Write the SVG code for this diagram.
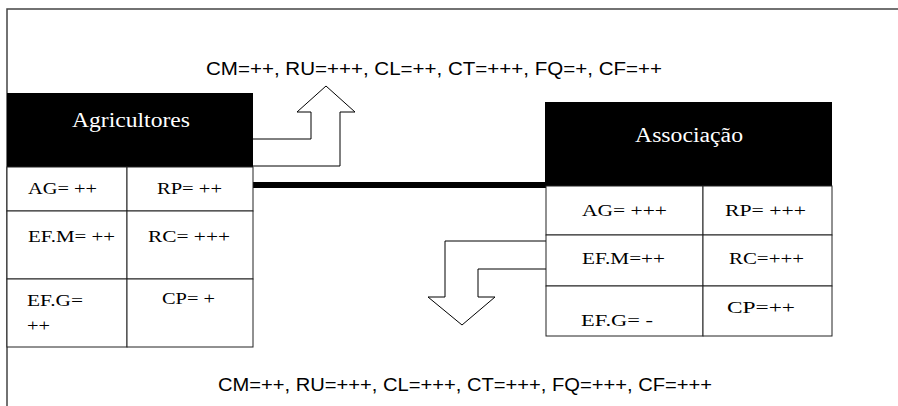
<svg xmlns="http://www.w3.org/2000/svg" width="898" height="406" viewBox="0 0 898 406">
<style>
.hdr{fill:#000}
.cell{fill:#fff;stroke:#222;stroke-width:1}
.ht{font-family:"Liberation Serif",serif;font-size:20px;fill:#fff}
.ct{font-family:"Liberation Serif",serif;font-size:17px;fill:#000}
.lab{font-family:"Liberation Sans",Arial,sans-serif;font-size:18px;fill:#000}
.arrow{fill:#fff;stroke:#000;stroke-width:1;stroke-linejoin:miter}
.frame{fill:none;stroke:#444;stroke-width:1.5}
</style>
<rect width="898" height="406" fill="#fff"/>
<path class="frame" d="M7,406 V9 H898"/>
<g id="connectors">
  <rect x="253" y="182" width="293" height="6" fill="#000"/>
  <polyline class="arrow" points="253,139 311,139 311,112 297,112 326,86 355,112 340,112 340,166 253,166"/>
  <polyline class="arrow" points="546,241 445,241 445,297 428,297 462,325 495,297 478,297 478,269 546,269"/>
</g>
<g id="agricultores">
  <rect class="hdr" x="7" y="93" width="246" height="74"/>
  <text class="ht" x="131" y="127" text-anchor="middle" textLength="118" lengthAdjust="spacingAndGlyphs">Agricultores</text>
  <rect class="cell" x="7" y="167" width="120" height="44"/>
  <rect class="cell" x="127" y="167" width="126" height="44"/>
  <rect class="cell" x="7" y="211" width="120" height="68"/>
  <rect class="cell" x="127" y="211" width="126" height="68"/>
  <rect class="cell" x="7" y="279" width="120" height="68"/>
  <rect class="cell" x="127" y="279" width="126" height="68"/>
  <text class="ct" x="28" y="194" textLength="69" lengthAdjust="spacingAndGlyphs">AG= ++</text>
  <text class="ct" x="157" y="194" textLength="65" lengthAdjust="spacingAndGlyphs">RP= ++</text>
  <text class="ct" x="28" y="242" textLength="87" lengthAdjust="spacingAndGlyphs">EF.M= ++</text>
  <text class="ct" x="148" y="242" textLength="82" lengthAdjust="spacingAndGlyphs">RC= +++</text>
  <text class="ct" x="27" y="306" textLength="56" lengthAdjust="spacingAndGlyphs">EF.G=</text>
  <text class="ct" x="27" y="331" textLength="23" lengthAdjust="spacingAndGlyphs">++</text>
  <text class="ct" x="162" y="304" textLength="53" lengthAdjust="spacingAndGlyphs">CP= +</text>
</g>
<g id="associacao">
  <rect class="hdr" x="545" y="102" width="287" height="84"/>
  <text class="ht" x="689" y="142" text-anchor="middle" textLength="108" lengthAdjust="spacingAndGlyphs">Associação</text>
  <rect class="cell" x="546" y="186" width="157" height="49"/>
  <rect class="cell" x="703" y="186" width="129" height="49"/>
  <rect class="cell" x="546" y="235" width="157" height="51"/>
  <rect class="cell" x="703" y="235" width="129" height="51"/>
  <rect class="cell" x="546" y="286" width="157" height="50"/>
  <rect class="cell" x="703" y="286" width="129" height="50"/>
  <text class="ct" x="582" y="216" textLength="85" lengthAdjust="spacingAndGlyphs">AG= +++</text>
  <text class="ct" x="725" y="216" textLength="81" lengthAdjust="spacingAndGlyphs">RP= +++</text>
  <text class="ct" x="582" y="264" textLength="83" lengthAdjust="spacingAndGlyphs">EF.M=++</text>
  <text class="ct" x="729" y="264" textLength="75" lengthAdjust="spacingAndGlyphs">RC=+++</text>
  <text class="ct" x="581" y="326" textLength="72" lengthAdjust="spacingAndGlyphs">EF.G= -</text>
  <text class="ct" x="727" y="313" textLength="68" lengthAdjust="spacingAndGlyphs">CP=++</text>
</g>
<g id="label-top">
  <text class="lab" x="206" y="75" textLength="456" lengthAdjust="spacingAndGlyphs">CM=++, RU=+++, CL=++, CT=+++, FQ=+, CF=++</text>
</g>
<g id="label-bottom">
  <text class="lab" x="218" y="391" textLength="494" lengthAdjust="spacingAndGlyphs">CM=++, RU=+++, CL=+++, CT=+++, FQ=+++, CF=+++</text>
</g>
</svg>
